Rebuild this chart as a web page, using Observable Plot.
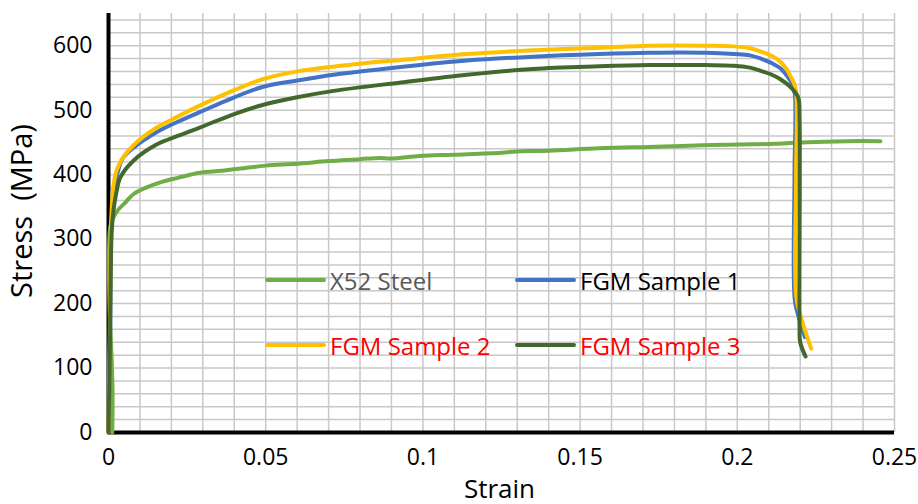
<!DOCTYPE html>
<html>
<head>
<meta charset="utf-8">
<script src="https://cdn.jsdelivr.net/npm/d3@7"></script>
<script src="https://cdn.jsdelivr.net/npm/@observablehq/plot@0.6"></script>
<style>
  html, body { margin: 0; padding: 0; background: #fff; }
  #wrap { position: relative; width: 918px; height: 504px; overflow: hidden; font-family: "Open Sans", sans-serif; }
  .leg { position: absolute; display: flex; align-items: center; height: 30px; font-size: 24px; white-space: nowrap; }
  .leg .sw { width: 61px; height: 4px; border-radius: 2px; margin-right: 4px; }
</style>
</head>
<body>
<div id="wrap"></div>
<script>
// ---- data ----
const seriesNames = ["X52 Steel", "FGM Sample 1", "FGM Sample 2", "FGM Sample 3"];
const seriesColors = ["#70ad47", "#4472c4", "#ffc000", "#43682b"];
const legendTextColors = ["#595959", "#000000", "#ff0000", "#ff0000"];

const x52Strain = [0.0012, 0.0013, 0.0010, 0.0003, 0.0002, 0.0006, 0.0015, 0.003, 0.005, 0.008, 0.012, 0.0165, 0.022, 0.029, 0.036, 0.043, 0.05, 0.06, 0.07, 0.08, 0.086, 0.09, 0.099, 0.11, 0.125, 0.13, 0.14, 0.156, 0.172, 0.18, 0.192, 0.205, 0.212, 0.22, 0.235, 0.2455];
const x52Stress = [0, 60, 115, 200, 290, 320, 333, 345, 355, 370, 380, 388, 395, 403, 406, 410, 414, 417, 421, 424, 426, 425, 429, 431, 434, 436, 437, 441, 443, 444, 446, 447, 448, 450, 452, 452];

const fgm1Strain = [0, 0.0005, 0.001, 0.002, 0.003, 0.0045, 0.008, 0.015, 0.022, 0.029, 0.04, 0.049, 0.06, 0.0716, 0.093, 0.114, 0.135, 0.156, 0.172, 0.19, 0.199, 0.204, 0.2075, 0.211, 0.2137, 0.216, 0.2175, 0.2183, 0.2182, 0.2183, 0.2195, 0.2215];
const fgm1Stress = [0, 150, 330, 385, 405, 425, 442, 465, 482, 497, 520, 536, 546, 555, 567, 577, 583, 587, 589, 589, 587, 585, 580, 573, 565, 552, 540, 525, 400, 205, 180, 148];

const fgm2Strain = [0, 0.0004, 0.0008, 0.0015, 0.0025, 0.004, 0.008, 0.015, 0.022, 0.029, 0.04, 0.049, 0.061, 0.08, 0.093, 0.114, 0.135, 0.156, 0.172, 0.19, 0.199, 0.204, 0.2075, 0.211, 0.213, 0.2155, 0.217, 0.2185, 0.2187, 0.2188, 0.2205, 0.2235];
const fgm2Stress = [0, 150, 320, 380, 405, 422, 446, 472, 490, 507, 531, 548, 561, 572, 578, 587, 593, 597, 600, 600, 599, 596, 591, 584, 578, 565, 552, 535, 400, 209, 175, 130];

const fgm3Strain = [0, 0.0005, 0.001, 0.0016, 0.0025, 0.0038, 0.008, 0.015, 0.022, 0.029, 0.04, 0.049, 0.06, 0.0716, 0.093, 0.114, 0.135, 0.156, 0.172, 0.19, 0.199, 0.204, 0.2075, 0.211, 0.2137, 0.2165, 0.2185, 0.2195, 0.2198, 0.2198, 0.22, 0.2217];
const fgm3Stress = [0, 150, 310, 345, 372, 396, 422, 446, 460, 473, 494, 508, 520, 530, 543, 555, 564, 568, 570, 570, 569, 566, 561, 555, 548, 538, 527, 518, 490, 165, 140, 118];

const xTicks = [0, 0.05, 0.1, 0.15, 0.2, 0.25];
const yTicks = [0, 100, 200, 300, 400, 500, 600];
const xTitle = "Strain";
const yTitle = "Stress  (MPa)";

// ---- build table ----
const strains = [x52Strain, fgm1Strain, fgm2Strain, fgm3Strain];
const stresses = [x52Stress, fgm1Stress, fgm2Stress, fgm3Stress];
const table = [];
seriesNames.forEach((name, s) => {
  strains[s].forEach((x, i) => table.push({series: name, strain: x, stress: stresses[s][i]}));
});

const xGrid = d3.range(26).map(i => i / 100);
const yGrid = d3.range(33).map(i => i * 20);

const chart = Plot.plot({
  width: 918,
  height: 504,
  marginLeft: 108,
  marginRight: 24,
  marginTop: 13,
  marginBottom: 72,
  style: {fontFamily: "'Open Sans', sans-serif", fontSize: "23px", color: "#000", background: "#fff", overflow: "visible"},
  x: {domain: [0, 0.25], label: null, axis: null},
  y: {domain: [0, 650], label: null, axis: null},
  color: {domain: seriesNames, range: seriesColors},
  marks: [
    Plot.ruleX(xGrid, {stroke: "#c8c8c8", strokeWidth: 1.5}),
    Plot.ruleY(yGrid, {stroke: "#c8c8c8", strokeWidth: 1.5}),
    Plot.axisX({ticks: xTicks, tickSize: 0, tickPadding: 16, tickFormat: d => String(d), label: null, fontSize: 23}),
    Plot.axisY({ticks: yTicks, tickSize: 0, tickPadding: 16, label: null, fontSize: 23}),
    Plot.ruleX([0], {stroke: "#000", strokeWidth: 4}),
    Plot.ruleY([0], {stroke: "#000", strokeWidth: 4}),
    Plot.line(table, {x: "strain", y: "stress", z: "series", stroke: "series", strokeWidth: 4, curve: "catmull-rom", strokeLinejoin: "round", strokeLinecap: "round"}),
    Plot.text([xTitle], {frameAnchor: "bottom", dy: 65, dx: -2, lineAnchor: "bottom", textAnchor: "middle", fontSize: 26, fill: "#000"}),
    Plot.text([yTitle], {frameAnchor: "left", dx: -86, dy: -12, rotate: -90, lineAnchor: "middle", textAnchor: "middle", fontSize: 29, fill: "#000"})
  ]
});

const wrap = document.getElementById("wrap");
wrap.appendChild(chart);

// legend (inside the plot area, transparent background)
const legendPos = [[265, 280], [515, 280], [265, 345], [515, 345]];
seriesNames.forEach((name, i) => {
  const item = document.createElement("div");
  item.className = "leg";
  item.style.left = legendPos[i][0] + "px";
  item.style.top = (legendPos[i][1] - 15) + "px";
  const sw = document.createElement("div");
  sw.className = "sw";
  sw.style.background = seriesColors[i];
  const tx = document.createElement("span");
  tx.textContent = name;
  tx.style.color = legendTextColors[i];
  item.appendChild(sw);
  item.appendChild(tx);
  wrap.appendChild(item);
});
</script>
</body>
</html>
